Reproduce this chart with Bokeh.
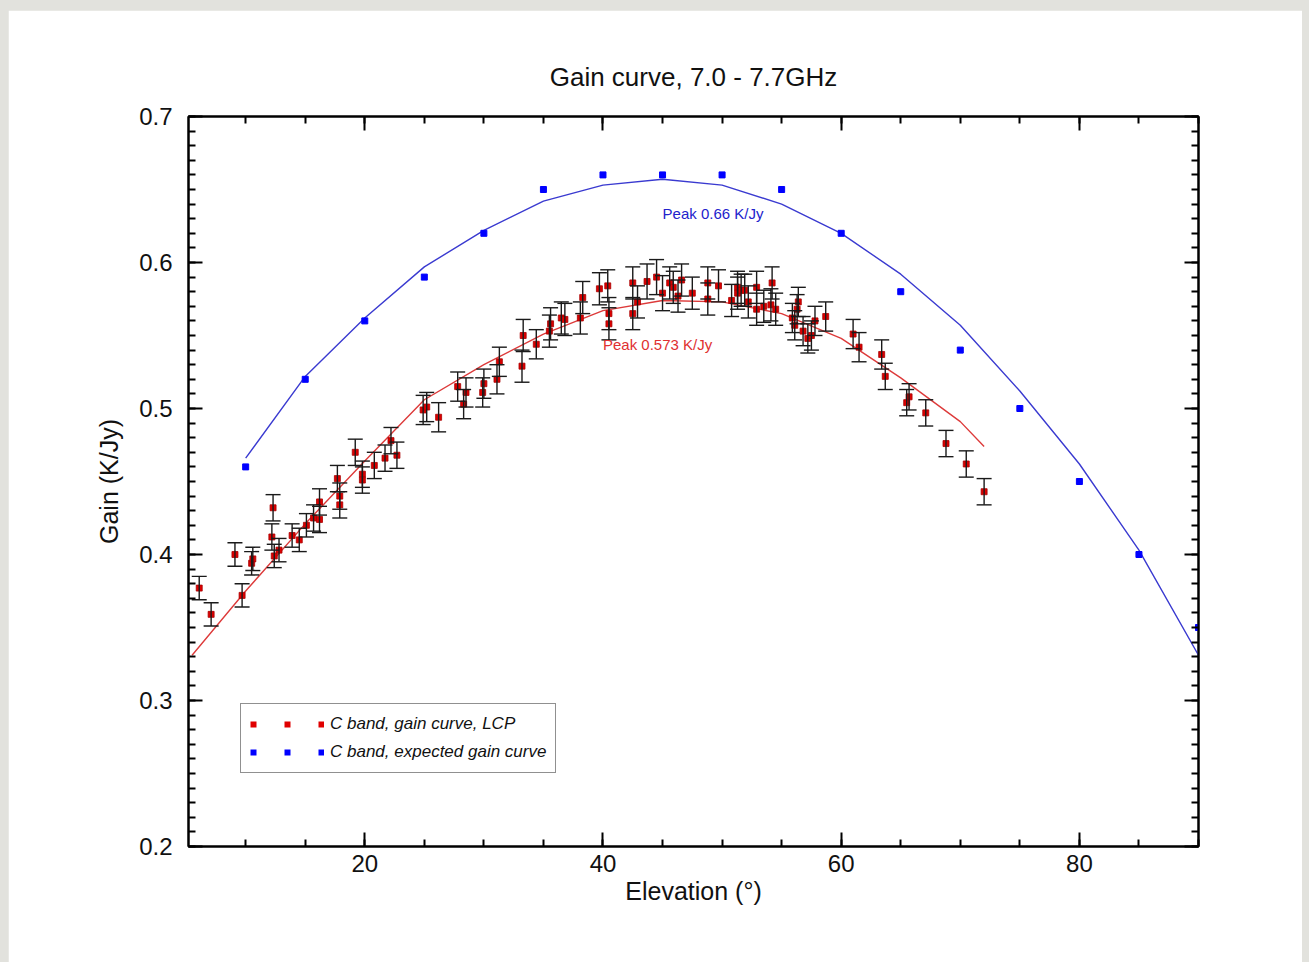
from bokeh.plotting import figure
from bokeh.models import (ColumnDataSource, Whisker, TeeHead, LinearAxis, FixedTicker,
                          Legend, LegendItem, Label, CustomJSTickFormatter, Range1d)
from bokeh.layouts import column
from bokeh.embed import file_html
from bokeh.resources import INLINE
import numpy as np

# ---- data ----
elev_lcp = [6.1, 7.1, 9.1, 9.7, 10.5, 10.6, 12.2, 12.3, 12.4, 12.8, 13.9, 14.5, 15.1, 15.7,
            16.2, 16.2, 17.7, 17.9, 17.9, 19.2, 19.8, 19.8, 20.8, 21.7, 22.2, 22.7, 24.9, 25.2,
            26.2, 27.8, 28.3, 28.5, 29.9, 30.0, 31.1, 31.3, 33.2, 33.3, 34.4, 35.5, 35.6, 36.5,
            36.8, 38.1, 38.3, 39.7, 40.4, 40.5, 40.5, 42.5, 42.5, 42.9, 43.7, 44.5, 45.0, 45.6,
            45.9, 46.3, 46.6, 47.5, 48.8, 48.8, 49.7, 50.8, 51.3, 51.3, 51.6, 51.9, 52.2, 52.9,
            52.9, 53.5, 54.1, 54.2, 54.5, 55.9, 56.1, 56.3, 56.4, 56.8, 57.2, 57.5, 57.8, 58.7,
            61.0, 61.5, 63.4, 63.7, 65.5, 65.7, 67.1, 68.8, 70.5, 72.0]
gain_lcp = [0.377, 0.359, 0.400, 0.372, 0.394, 0.397, 0.412, 0.432, 0.399, 0.403, 0.413, 0.410,
            0.420, 0.425, 0.424, 0.436, 0.452, 0.440, 0.434, 0.470, 0.455, 0.451, 0.461, 0.466,
            0.478, 0.468, 0.499, 0.501, 0.494, 0.515, 0.503, 0.511, 0.511, 0.517, 0.520, 0.532,
            0.529, 0.550, 0.544, 0.553, 0.558, 0.562, 0.561, 0.562, 0.576, 0.582, 0.584, 0.565,
            0.558, 0.586, 0.565, 0.573, 0.587, 0.590, 0.579, 0.586, 0.583, 0.577, 0.588, 0.579,
            0.586, 0.575, 0.584, 0.574, 0.583, 0.579, 0.581, 0.581, 0.573, 0.583, 0.568, 0.570,
            0.571, 0.586, 0.568, 0.562, 0.557, 0.568, 0.573, 0.553, 0.548, 0.550, 0.560, 0.563,
            0.551, 0.542, 0.537, 0.522, 0.504, 0.508, 0.497, 0.476, 0.462, 0.443]
err_lcp = [0.008, 0.008, 0.008, 0.008, 0.008, 0.008, 0.009, 0.009, 0.008, 0.008, 0.008, 0.008,
           0.008, 0.009, 0.009, 0.009, 0.009, 0.009, 0.009, 0.009, 0.009, 0.009, 0.009, 0.009,
           0.009, 0.009, 0.010, 0.010, 0.010, 0.010, 0.010, 0.010, 0.010, 0.010, 0.010, 0.010,
           0.011, 0.011, 0.010, 0.011, 0.011, 0.011, 0.011, 0.011, 0.011, 0.011, 0.011, 0.011,
           0.011, 0.011, 0.011, 0.011, 0.012, 0.012, 0.012, 0.011, 0.011, 0.011, 0.011, 0.011,
           0.011, 0.011, 0.011, 0.011, 0.011, 0.011, 0.011, 0.011, 0.011, 0.011, 0.011, 0.011,
           0.011, 0.011, 0.011, 0.010, 0.010, 0.010, 0.010, 0.010, 0.010, 0.010, 0.010, 0.010,
           0.010, 0.010, 0.010, 0.009, 0.009, 0.009, 0.009, 0.009, 0.009, 0.009]

fit_elev_lcp = [5.5, 10, 15, 20, 25, 30, 35, 40, 45, 50, 55, 60, 65, 70, 72]
fit_gain_lcp = [0.331, 0.375, 0.421, 0.464, 0.506, 0.530, 0.551, 0.567, 0.574, 0.573, 0.565,
                0.548, 0.521, 0.491, 0.474]

elev_exp = [10, 15, 20, 25, 30, 35, 40, 45, 50, 55, 60, 65, 70, 75, 80, 85, 90]
gain_exp = [0.46, 0.52, 0.56, 0.59, 0.62, 0.65, 0.66, 0.66, 0.66, 0.65, 0.62, 0.58, 0.54, 0.50,
            0.45, 0.40, 0.35]

fit_elev_exp = [10, 15, 20, 25, 30, 35, 40, 45, 50, 55, 60, 65, 70, 75, 80, 85, 90]
fit_gain_exp = [0.466, 0.522, 0.562, 0.597, 0.622, 0.642, 0.653, 0.657, 0.653, 0.640, 0.620,
                0.592, 0.557, 0.512, 0.462, 0.403, 0.331]

title_text = "Gain curve, 7.0 - 7.7GHz"
x_label = "Elevation (°)"
y_label = "Gain (K/Jy)"
legend_lcp = "C band, gain curve, LCP"
legend_exp = "C band, expected gain curve"
peak_exp_text = "Peak 0.66 K/Jy"
peak_lcp_text = "Peak 0.573 K/Jy"

FONT = "Liberation Sans"

p = figure(frame_width=1010, frame_height=730, min_border_left=180, min_border_right=104,
           min_border_top=106, min_border_bottom=116,
           x_range=Range1d(5.2, 90), y_range=Range1d(0.2, 0.7),
           output_backend="svg", toolbar_location=None, x_axis_location=None,
           y_axis_location=None, background_fill_color="white", border_fill_color="white")
p.grid.visible = False
p.outline_line_color = "black"
p.outline_line_width = 2

p.title.text = title_text
p.title.align = "center"
p.title.text_font = FONT
p.title.text_font_size = "26px"
p.title.text_font_style = "normal"
p.title.text_color = "#111111"
p.title.standoff = 50

xt = FixedTicker(ticks=[20, 40, 60, 80], minor_ticks=list(range(5, 95, 5)))
yt = FixedTicker(ticks=[0.2, 0.3, 0.4, 0.5, 0.6, 0.7],
                 minor_ticks=[round(v, 2) for v in np.arange(0.2, 0.7001, 0.01)])

def style_axis(ax, labels=True):
    ax.axis_line_color = "black"
    ax.axis_line_width = 2
    ax.major_tick_in = 14
    ax.major_tick_out = 0
    ax.minor_tick_in = 7
    ax.minor_tick_out = 0
    ax.major_tick_line_width = 2
    ax.minor_tick_line_width = 2
    ax.major_tick_line_color = "black"
    ax.minor_tick_line_color = "black"
    ax.major_label_text_font = FONT
    ax.major_label_text_font_size = "24px"
    ax.major_label_text_color = "#111111"
    ax.axis_label_text_font = FONT
    ax.axis_label_text_font_size = "25px"
    ax.axis_label_text_font_style = "normal"
    ax.axis_label_text_color = "#111111"
    if not labels:
        ax.formatter = CustomJSTickFormatter(code="return ''")
        ax.major_label_standoff = 0

xb = LinearAxis(ticker=xt, axis_label=x_label)
style_axis(xb)
xb.major_label_standoff = 8
xb.axis_label_standoff = 2
p.add_layout(xb, "below")
xa = LinearAxis(ticker=xt)
style_axis(xa, labels=False)
p.add_layout(xa, "above")
yl = LinearAxis(ticker=yt, axis_label=y_label)
style_axis(yl)
yl.major_label_standoff = 16
yl.axis_label_standoff = 13
p.add_layout(yl, "left")
yr = LinearAxis(ticker=yt)
style_axis(yr, labels=False)
p.add_layout(yr, "right")

src = ColumnDataSource(dict(x=elev_lcp, y=gain_lcp,
                            lo=[g - e for g, e in zip(gain_lcp, err_lcp)],
                            hi=[g + e for g, e in zip(gain_lcp, err_lcp)]))

# fit curves
p.line(fit_elev_exp, fit_gain_exp, line_color="#3a3ad0", line_width=1.4)
p.line(fit_elev_lcp, fit_gain_lcp, line_color="#dd3a3a", line_width=1.4)

wh = Whisker(base="x", lower="lo", upper="hi", source=src, dimension="height",
             line_color="#1a1a1a", line_width=1.4, level="glyph",
             lower_head=TeeHead(size=15, line_color="#1a1a1a", line_width=1.4),
             upper_head=TeeHead(size=15, line_color="#1a1a1a", line_width=1.4))
p.add_layout(wh)

p.scatter("x", "y", source=src, marker="square", size=6, fill_color="#dd0000",
          line_color="#a80000", line_width=0.8)
p.scatter(elev_exp, gain_exp, marker="square", size=6, fill_color="#0000ff",
          line_color="#0000ff")

p.add_layout(Label(x=45, y=0.6336, text=peak_exp_text, text_color="#2222cc",
                   text_font=FONT, text_font_size="15px", text_baseline="middle"))
p.add_layout(Label(x=40, y=0.5438, text=peak_lcp_text, text_color="#e03030",
                   text_font=FONT, text_font_size="15px", text_baseline="middle"))

# legend keys: dotted square markers (renderers hold no visible data)
key_src = ColumnDataSource(dict(x=[np.nan, np.nan], y=[np.nan, np.nan]))
lr = p.line("x", "y", source=key_src, line_color="#e00000", line_width=6,
            line_dash="6 28", line_cap="butt")
lb = p.line("x", "y", source=key_src, line_color="#0000ff", line_width=6,
            line_dash="6 28", line_cap="butt")
leg = Legend(items=[LegendItem(label=legend_lcp, renderers=[lr]),
                    LegendItem(label=legend_exp, renderers=[lb])],
             location=(52, 73), orientation="vertical", glyph_width=74, glyph_height=22,
             label_height=22, label_standoff=6, spacing=6, padding=9, margin=0,
             label_text_font=FONT, label_text_font_size="17px", label_text_font_style="italic",
             label_text_color="#111111", border_line_color="#222222", border_line_width=1.2,
             background_fill_color="white", background_fill_alpha=1.0)
p.add_layout(leg, "center")

layout = column(p, styles={"background-color": "#e2e2dd", "padding": "10px 7px 0px 8px"})

open("out.html", "w").write(file_html(layout, INLINE))
